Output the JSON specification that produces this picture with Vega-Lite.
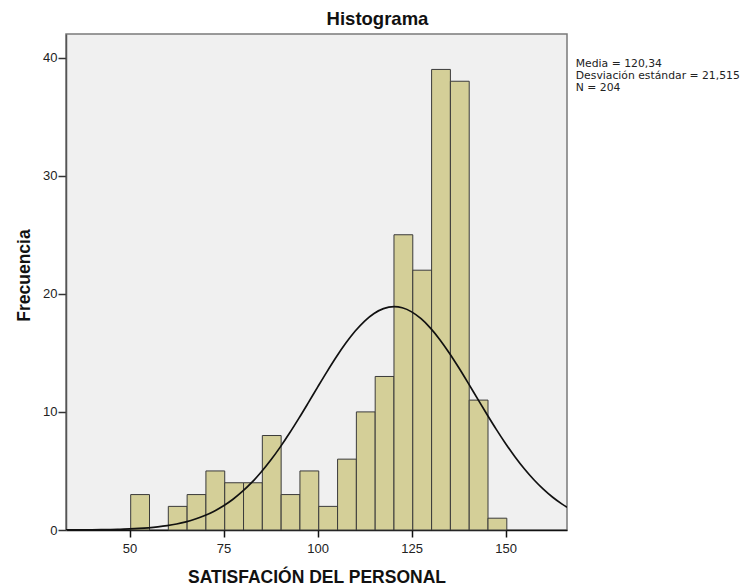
{
  "$schema": "https://vega.github.io/schema/vega-lite/v6.json",
  "width": 501,
  "height": 496,
  "autosize": {"type": "none"},
  "padding": {"left": 66, "top": 34, "right": 182, "bottom": 55},
  "background": "white",
  "view": {"fill": "#f0f0f0", "stroke": "#7a7a7a", "strokeWidth": 1.5},
  "title": {
    "text": "Histograma",
    "font": "Liberation Sans",
    "fontSize": 18.5,
    "fontWeight": "bold",
    "color": "#111111",
    "anchor": "middle",
    "dx": 61,
    "dy": 19,
    "offset": 10,
    "baseline": "alphabetic"
  },
  "layer": [
    {
      "data": {
        "values": [
          {"bin_start": 50.3, "bin_end": 55.3, "count": 3},
          {"bin_start": 60.3, "bin_end": 65.3, "count": 2},
          {"bin_start": 65.3, "bin_end": 70.3, "count": 3},
          {"bin_start": 70.3, "bin_end": 75.3, "count": 5},
          {"bin_start": 75.3, "bin_end": 80.3, "count": 4},
          {"bin_start": 80.3, "bin_end": 85.3, "count": 4},
          {"bin_start": 85.3, "bin_end": 90.3, "count": 8},
          {"bin_start": 90.3, "bin_end": 95.3, "count": 3},
          {"bin_start": 95.3, "bin_end": 100.3, "count": 5},
          {"bin_start": 100.3, "bin_end": 105.3, "count": 2},
          {"bin_start": 105.3, "bin_end": 110.3, "count": 6},
          {"bin_start": 110.3, "bin_end": 115.3, "count": 10},
          {"bin_start": 115.3, "bin_end": 120.3, "count": 13},
          {"bin_start": 120.3, "bin_end": 125.3, "count": 25},
          {"bin_start": 125.3, "bin_end": 130.3, "count": 22},
          {"bin_start": 130.3, "bin_end": 135.3, "count": 39},
          {"bin_start": 135.3, "bin_end": 140.3, "count": 38},
          {"bin_start": 140.3, "bin_end": 145.3, "count": 11},
          {"bin_start": 145.3, "bin_end": 150.3, "count": 1}
        ]
      },
      "mark": {"type": "rect", "fill": "#d4cf98", "stroke": "#3a3a3a", "strokeWidth": 1, "opacity": 1},
      "encoding": {
        "x": {
          "field": "bin_start",
          "type": "quantitative",
          "scale": {"domain": [33.1, 166.3], "nice": false, "zero": false},
          "axis": {
            "title": "SATISFACIÓN DEL PERSONAL",
            "values": [50, 75, 100, 125, 150],
            "format": "d",
            "grid": false,
            "tickSize": 7,
            "tickWidth": 1.5,
            "tickColor": "#111111",
            "domainColor": "#111111",
            "domainWidth": 1.5,
            "labelFont": "Liberation Sans",
            "labelFontSize": 13,
            "labelColor": "#222222",
            "labelPadding": 5,
            "titleFont": "Liberation Sans",
            "titleFontSize": 17.5,
            "titleFontWeight": "bold",
            "titleColor": "#111111",
            "titlePadding": 13
          }
        },
        "x2": {"field": "bin_end"},
        "y": {
          "field": "count",
          "type": "quantitative",
          "scale": {"domain": [0, 42], "nice": false},
          "axis": {
            "title": "Frecuencia",
            "values": [0, 10, 20, 30, 40],
            "format": "d",
            "grid": false,
            "tickSize": 8,
            "tickWidth": 1.5,
            "tickColor": "#333333",
            "domainColor": "#555555",
            "domainWidth": 1.5,
            "labelFont": "Liberation Sans",
            "labelFontSize": 13,
            "labelColor": "#222222",
            "labelPadding": 1,
            "titleFont": "Liberation Sans",
            "titleFontSize": 17.5,
            "titleFontWeight": "bold",
            "titleColor": "#111111",
            "titlePadding": 9,
            "titleY": 241
          }
        },
        "y2": {"datum": 0}
      }
    },
    {
      "data": {
        "values": [
          {"x": 33.1, "y": 0.0052},
          {"x": 35, "y": 0.0072},
          {"x": 37.5, "y": 0.0114},
          {"x": 40, "y": 0.0177},
          {"x": 42.5, "y": 0.0272},
          {"x": 45, "y": 0.0411},
          {"x": 47.5, "y": 0.0614},
          {"x": 50, "y": 0.0903},
          {"x": 52.5, "y": 0.1312},
          {"x": 55, "y": 0.188},
          {"x": 57.5, "y": 0.2657},
          {"x": 60, "y": 0.370},
          {"x": 62.5, "y": 0.5096},
          {"x": 65, "y": 0.692},
          {"x": 67.5, "y": 0.927},
          {"x": 70, "y": 1.224},
          {"x": 72.5, "y": 1.596},
          {"x": 75, "y": 2.053},
          {"x": 77.5, "y": 2.605},
          {"x": 80, "y": 3.261},
          {"x": 82.5, "y": 4.027},
          {"x": 85, "y": 4.907},
          {"x": 87.5, "y": 5.899},
          {"x": 90, "y": 6.996},
          {"x": 92.5, "y": 8.187},
          {"x": 95, "y": 9.451},
          {"x": 97.5, "y": 10.764},
          {"x": 100, "y": 12.096},
          {"x": 102.5, "y": 13.409},
          {"x": 105, "y": 14.666},
          {"x": 107.5, "y": 15.825},
          {"x": 110, "y": 16.847},
          {"x": 112.5, "y": 17.695},
          {"x": 115, "y": 18.336},
          {"x": 117.5, "y": 18.746},
          {"x": 120.34, "y": 18.91},
          {"x": 122.5, "y": 18.815},
          {"x": 125, "y": 18.471},
          {"x": 127.5, "y": 17.891},
          {"x": 130, "y": 17.097},
          {"x": 132.5, "y": 16.119},
          {"x": 135, "y": 14.993},
          {"x": 137.5, "y": 13.758},
          {"x": 140, "y": 12.456},
          {"x": 142.5, "y": 11.126},
          {"x": 145, "y": 9.804},
          {"x": 147.5, "y": 8.524},
          {"x": 150, "y": 7.311},
          {"x": 152.5, "y": 6.187},
          {"x": 155, "y": 5.165},
          {"x": 157.5, "y": 4.255},
          {"x": 160, "y": 3.458},
          {"x": 162.5, "y": 2.772},
          {"x": 165, "y": 2.194},
          {"x": 166.3, "y": 1.93}
        ]
      },
      "mark": {"type": "line", "color": "#111111", "strokeWidth": 1.7, "interpolate": "monotone", "clip": true},
      "encoding": {
        "x": {"field": "x", "type": "quantitative"},
        "y": {"field": "y", "type": "quantitative"}
      }
    },
    {
      "data": {
        "values": [
          {"stat": "Media = 120,34"},
          {"stat": "Desviación estándar = 21,515"},
          {"stat": "N = 204"}
        ]
      },
      "mark": {"type": "point", "opacity": 0},
      "encoding": {
        "color": {
          "field": "stat",
          "type": "nominal",
          "scale": {
            "domain": ["Media = 120,34", "Desviación estándar = 21,515", "N = 204"],
            "range": ["#222222", "#222222", "#222222"]
          },
          "legend": {
            "orient": "none",
            "legendX": 499,
            "legendY": 25,
            "title": null,
            "padding": 0,
            "symbolSize": 0,
            "symbolOpacity": 0,
            "symbolStrokeWidth": 0,
            "labelOffset": 0,
            "labelFont": "DejaVu Sans",
            "labelFontSize": 10.8,
            "labelColor": "#222222",
            "labelLimit": 300,
            "rowPadding": 0
          }
        }
      }
    }
  ]
}
